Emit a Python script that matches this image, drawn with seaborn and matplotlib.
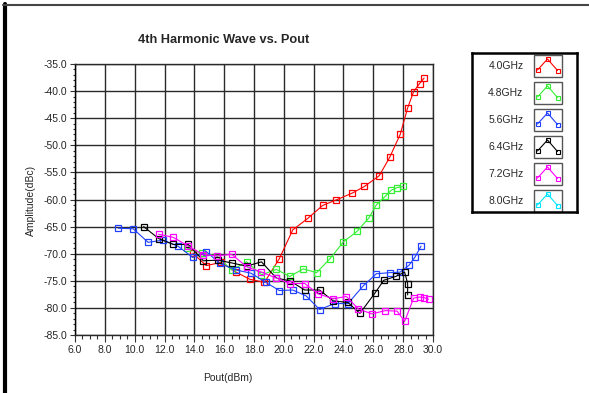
import numpy as np
import pandas as pd
import seaborn as sns
import matplotlib
matplotlib.use('Agg')
import matplotlib.pyplot as plt
from matplotlib.lines import Line2D
from matplotlib.patches import Rectangle
from matplotlib.ticker import MultipleLocator, FormatStrFormatter

freq_labels = ['4.0GHz', '4.8GHz', '5.6GHz', '6.4GHz', '7.2GHz', '8.0GHz']
colors = ['#ff0000', '#33ee33', '#2040ff', '#000000', '#ff00ff', '#00e5ff']

x_40 = [13.9, 14.8, 15.8, 16.8, 17.7, 18.7, 19.7, 20.6, 21.6, 22.6, 23.5, 24.6,
        25.4, 26.4, 27.1, 27.8, 28.3, 28.7, 29.1, 29.4]
y_40 = [-69.9, -72.2, -71.6, -73.4, -74.7, -75.3, -70.9, -65.6, -63.5, -61.1, -60.1, -58.8,
        -57.6, -55.6, -52.2, -48.0, -43.1, -40.1, -38.6, -37.6]

x_48 = [13.5, 14.5, 15.5, 16.5, 17.5, 18.5, 19.5, 20.4, 21.3, 22.2, 23.1, 24.0,
        24.9, 25.7, 26.2, 26.8, 27.2, 27.6, 28.0]
y_48 = [-68.9, -69.9, -70.4, -73.0, -71.5, -73.9, -72.9, -74.2, -72.8, -73.5, -70.9, -67.8,
        -65.9, -63.4, -61.0, -59.4, -58.3, -57.8, -57.6]

x_56 = [8.9, 9.9, 10.9, 11.9, 12.9, 13.9, 14.8, 15.7, 16.8, 17.8, 18.8, 19.7, 20.6,
        21.5, 22.4, 23.4, 24.3, 25.3, 26.2, 27.1, 27.8, 28.4, 28.8, 29.2]
y_56 = [-65.3, -65.4, -67.9, -67.5, -68.6, -70.7, -69.6, -71.8, -73.0, -73.6, -75.3, -76.8, -76.7,
        -77.8, -80.3, -79.2, -79.2, -76.0, -73.7, -73.5, -73.4, -72.1, -70.6, -68.6]

x_64 = [10.6, 11.6, 12.6, 13.6, 14.6, 15.6, 16.5, 17.5, 18.5, 19.5, 20.4, 21.4,
        22.4, 23.3, 24.3, 25.1, 26.1, 26.7, 27.5, 28.1, 28.3, 28.3]
y_64 = [-65.0, -67.2, -68.3, -68.3, -71.3, -71.2, -71.7, -72.3, -71.5, -74.5, -75.0, -76.7,
        -76.7, -78.7, -79.0, -81.0, -77.3, -74.9, -74.2, -73.4, -75.5, -77.6]

x_72 = [11.6, 12.6, 13.6, 14.6, 15.5, 16.5, 17.5, 18.5, 19.5, 20.4, 21.4, 22.3,
        23.3, 24.2, 25.0, 25.9, 26.8, 27.6, 28.1, 28.7, 29.1, 29.4, 29.7]
y_72 = [-66.4, -67.0, -68.6, -70.2, -70.4, -70.1, -72.4, -73.4, -74.5, -75.5, -75.5, -77.4,
        -78.3, -77.9, -80.2, -81.1, -80.5, -80.6, -82.5, -78.2, -78.0, -78.1, -78.4]

x_80 = []
y_80 = []

series_x = [x_40, x_48, x_56, x_64, x_72, x_80]
series_y = [y_40, y_48, y_56, y_64, y_72, y_80]

sns.set_theme(style='white')
plt.rcParams['font.family'] = ['Liberation Sans', 'DejaVu Sans']

W, H = 589, 393
fig = plt.figure(figsize=(W / 100, H / 100), dpi=100)
fig.patch.set_facecolor('white')

ax = fig.add_axes([75 / W, 1 - 335 / H, 358 / W, 271 / H])
ax.set_facecolor('white')

for lab, xs, ys, col in zip(freq_labels, series_x, series_y, colors):
    if len(xs) == 0:
        continue
    d = pd.DataFrame({'Pout': xs, 'Amp': ys})
    sns.lineplot(data=d, x='Pout', y='Amp', ax=ax, color=col, sort=False,
                 estimator=None, marker='s', markersize=4.6,
                 markerfacecolor='none', markeredgecolor=col,
                 markeredgewidth=0.9, linewidth=0.8)

ax.set_xlim(6, 30)
ax.set_ylim(-85, -35)
ax.xaxis.set_major_locator(MultipleLocator(2))
ax.xaxis.set_minor_locator(MultipleLocator(0.5))
ax.yaxis.set_major_locator(MultipleLocator(5))
ax.yaxis.set_minor_locator(MultipleLocator(1))
ax.xaxis.set_major_formatter(FormatStrFormatter('%.1f'))
ax.yaxis.set_major_formatter(FormatStrFormatter('%.1f'))
ax.set_axisbelow(True)
ax.grid(True, which='major', color='#2a2a2a', linewidth=1.0)
ax.grid(False, which='minor')
ax.set_xlabel('')
ax.set_ylabel('')
for s in ax.spines.values():
    s.set_color('#2a2a2a')
    s.set_linewidth(1.0)
ax.spines['left'].set_color('black')

ax.tick_params(axis='y', which='major', direction='out', length=3.8, width=0.8,
               color='#333333', labelsize=7.5, pad=2, left=True)
ax.tick_params(axis='y', which='minor', direction='out', length=1.8, width=0.8,
               color='#333333', left=True)
ax.tick_params(axis='x', which='major', direction='out', length=5, width=0.8,
               color='#333333', labelsize=7.5, pad=2.5, bottom=True)
ax.tick_params(axis='x', which='minor', direction='out', length=3, width=0.8,
               color='#333333', bottom=True)

fig.text(224 / W, 1 - 40 / H, '4th Harmonic Wave vs. Pout', ha='center', va='center',
         fontsize=9.2, fontweight='bold')
fig.text(228 / W, 1 - 378 / H, 'Pout(dBm)', ha='center', va='center', fontsize=7.5)
fig.text(31 / W, 1 - 200 / H, 'Amplitude(dBc)', ha='center', va='center',
         fontsize=7.5, rotation=90)

# outer frame (left and top edges)
fig.add_artist(Line2D([5 / W, 5 / W], [0, 1 - 4 / H], transform=fig.transFigure,
                      color='black', linewidth=3))
fig.add_artist(Line2D([3 / W, 1], [1 - 5 / H, 1 - 5 / H], transform=fig.transFigure,
                      color='#444444', linewidth=1.5))

# legend box
lax = fig.add_axes([472 / W, 1 - 212 / H, 105 / W, 159 / H])
lax.set_xlim(472, 577)
lax.set_ylim(212, 53)
lax.set_xticks([])
lax.set_yticks([])
lax.set_facecolor('white')
for s in lax.spines.values():
    s.set_color('black')
    s.set_linewidth(1.8)
for i, (lab, col) in enumerate(zip(freq_labels, colors)):
    yc = 66 + 27 * i
    lax.text(523.5, yc, lab, ha='right', va='center', fontsize=7.5)
    lax.add_patch(Rectangle((534, yc - 11), 28, 22, fill=False,
                            edgecolor='#555555', linewidth=1))
    lax.plot([537.5, 547.5, 557.5], [yc + 4, yc - 7, yc + 4.5], color=col,
             linewidth=0.8, marker='s', markersize=3.5, markerfacecolor='none',
             markeredgecolor=col, markeredgewidth=0.8)

fig.savefig('out.png', dpi=100, facecolor='white')
